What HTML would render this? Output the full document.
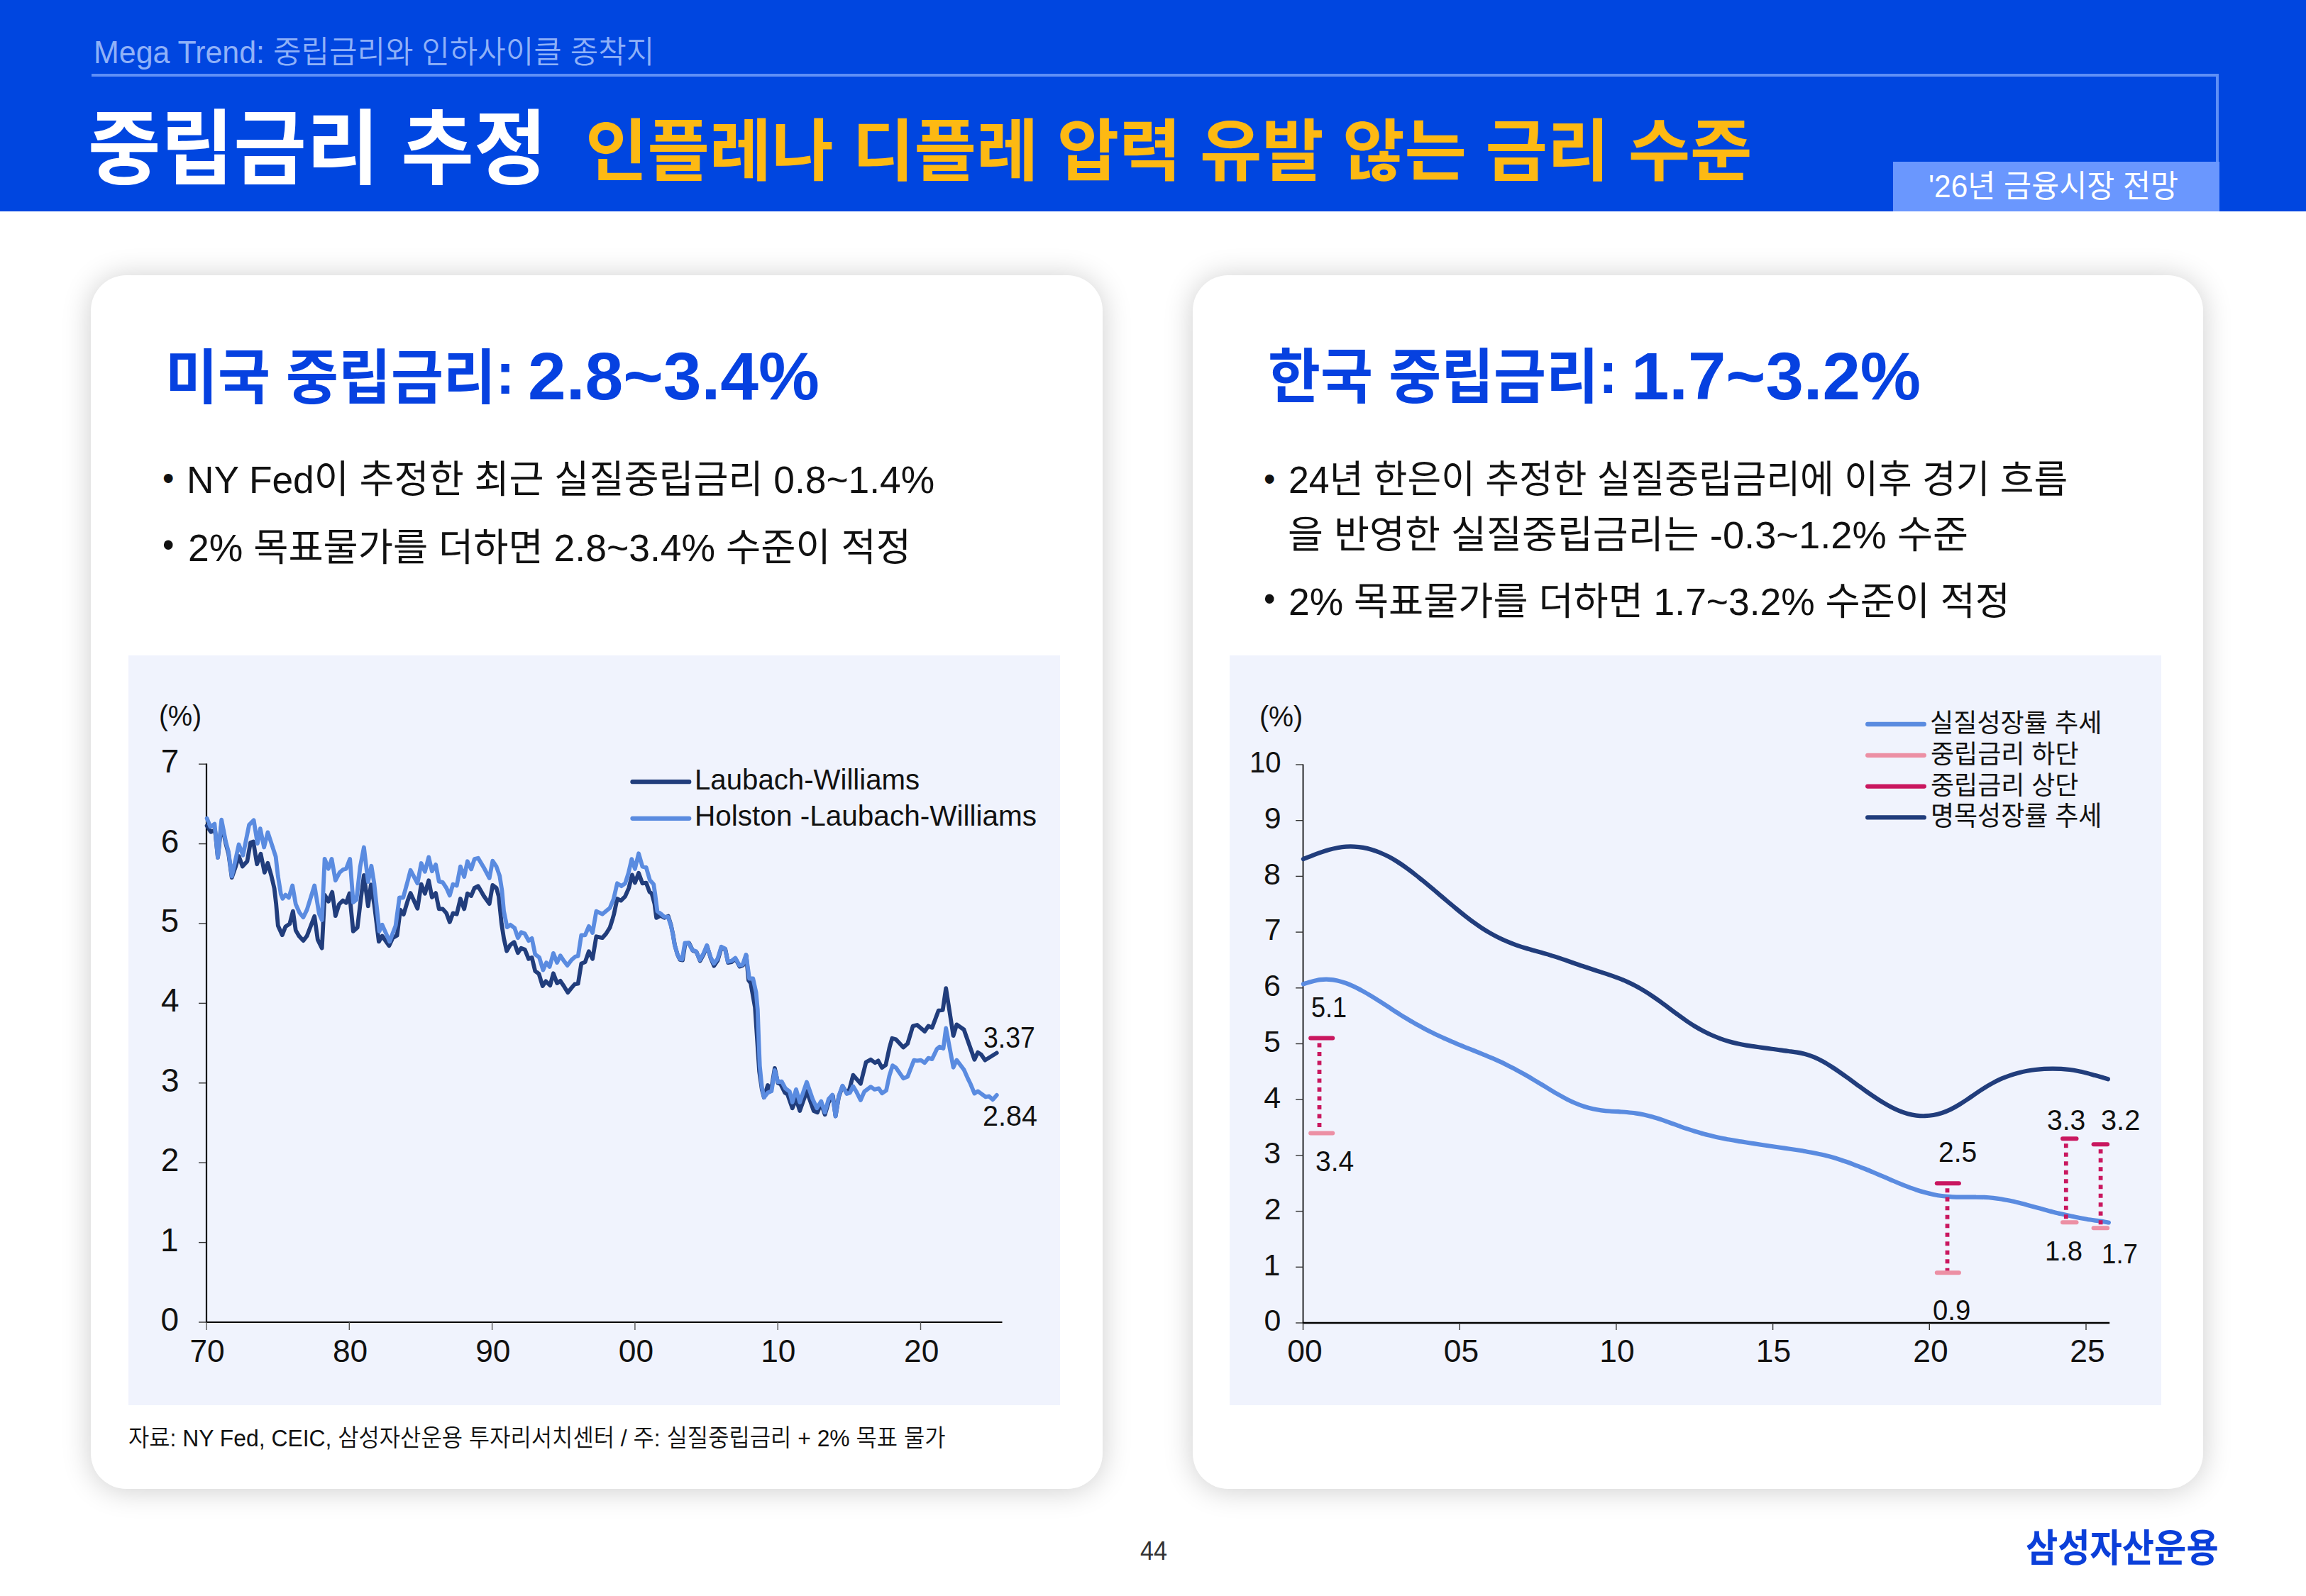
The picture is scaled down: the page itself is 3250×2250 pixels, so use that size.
<!DOCTYPE html>
<html lang="ko">
<head>
<meta charset="utf-8">
<title>중립금리 추정</title>
<style>
*{margin:0;padding:0;box-sizing:border-box}
html,body{width:3250px;height:2250px;background:#fff;overflow:hidden}
body{position:relative;font-family:"Liberation Sans","Noto Sans CJK KR",sans-serif}
.hdr{position:absolute;left:0;top:0;width:3250px;height:297.5px;background:#0046e0}
.fr{position:absolute;left:128.5px;top:103.5px;width:2998.2px;height:126px;border-top:4px solid #5f8ff6;border-right:4px solid #5f8ff6}
.bdg{position:absolute;left:2668px;top:228.2px;width:459.8px;height:69.5px;background:#6a97fe}
.card{position:absolute;top:387.5px;height:1711.5px;background:#fff;border-radius:50px;box-shadow:0 2px 42px rgba(0,0,0,.20)}
.c1{left:128px;width:1425.6px}
.c2{left:1680.5px;width:1424.6px}
.pnl{position:absolute;top:924px;height:1057px;background:#f0f3fd}
.p1{left:181px;width:1313.3px}
.p2{left:1732.8px;width:1313.3px}
.cv{position:absolute;left:0;top:0}
.t{position:absolute;white-space:nowrap;line-height:1;transform-origin:0 0}
.cl{position:relative;top:-.085em}
</style>
</head>
<body>
<div class="hdr"></div><div class="fr"></div><div class="bdg"></div>
<div class="card c1"></div><div class="card c2"></div>
<div class="pnl p1"></div><div class="pnl p2"></div>
<svg class="cv" width="3250" height="2250" viewBox="0 0 3250 2250">
<g stroke="#000" stroke-width="2.2" fill="none">
<path d="M291.0 1076.6V1864.0H1412.5"/>
<path d="M1836.5 1077.4V1865.0" stroke-width="1.7"/>
<path d="M1835.7 1865.0H2973.2" stroke-width="2.4"/>
</g>
<g stroke="#333" stroke-width="1.4" fill="none">
<path d="M280.0 1864.0H291.0"/>
<path d="M280.0 1751.6H291.0"/>
<path d="M280.0 1639.2H291.0"/>
<path d="M280.0 1526.8H291.0"/>
<path d="M280.0 1414.4H291.0"/>
<path d="M280.0 1302.0H291.0"/>
<path d="M280.0 1189.6H291.0"/>
<path d="M280.0 1077.2H291.0"/>
<path d="M291.0 1864.0V1875.0" stroke="#555"/>
<path d="M492.3 1864.0V1875.0" stroke="#555"/>
<path d="M693.6 1864.0V1875.0" stroke="#555"/>
<path d="M894.9 1864.0V1875.0" stroke="#555"/>
<path d="M1096.2 1864.0V1875.0" stroke="#555"/>
<path d="M1297.5 1864.0V1875.0" stroke="#555"/>
<path d="M1826.1 1865.0H1836.5"/>
<path d="M1826.1 1786.3H1836.5"/>
<path d="M1826.1 1707.6H1836.5"/>
<path d="M1826.1 1628.9H1836.5"/>
<path d="M1826.1 1550.2H1836.5"/>
<path d="M1826.1 1471.5H1836.5"/>
<path d="M1826.1 1392.8H1836.5"/>
<path d="M1826.1 1314.1H1836.5"/>
<path d="M1826.1 1235.4H1836.5"/>
<path d="M1826.1 1156.7H1836.5"/>
<path d="M1826.1 1078.0H1836.5"/>
<path d="M1836.5 1865.0V1875.0"/>
<path d="M2057.2 1865.0V1875.0"/>
<path d="M2277.9 1865.0V1875.0"/>
<path d="M2498.6 1865.0V1875.0"/>
<path d="M2719.3 1865.0V1875.0"/>
<path d="M2940.0 1865.0V1875.0"/>
</g>
<g fill="none" stroke-linejoin="round" stroke-linecap="round" stroke-width="5.8">
<polyline stroke="#213d7c" points="291.6,1164.2 297.1,1172.8 301.1,1170.8 303.0,1169.5 307.0,1208.9 312.2,1160.9 314.9,1173.4 318.2,1189.2 322.1,1203.7 326.7,1237.2 332.0,1222.1 336.6,1207.0 341.8,1221.4 348.4,1214.2 353.0,1187.9 357.0,1186.6 362.2,1218.2 367.5,1203.7 372.8,1230.0 377.4,1216.8 382.6,1235.3 386.6,1252.4 389.2,1274.7 391.8,1305.0 397.8,1318.2 402.4,1306.3 408.3,1302.4 412.9,1284.6 416.8,1311.6 421.4,1319.5 427.4,1326.1 432.6,1319.5 443.2,1291.8 447.8,1324.7 453.7,1336.6 457.6,1261.6 462.9,1270.8 468.2,1257.6 472.8,1291.2 478.0,1274.7 483.3,1269.5 487.9,1272.8 492.5,1259.6 497.8,1312.9 503.7,1307.6 508.3,1269.5 512.9,1233.9 518.8,1277.4 522.8,1247.1 527.4,1274.7 533.9,1327.4 538.6,1319.5 548.4,1333.3 553.7,1322.1 559.6,1318.8 564.2,1282.6 568.8,1289.2 574.7,1269.5 578.6,1259.1 588.4,1280.8 593.7,1246.6 598.9,1259.7 604.2,1241.3 608.8,1265.0 614.1,1259.1 618.7,1281.4 623.9,1281.4 629.2,1287.4 633.8,1299.9 638.4,1287.4 643.7,1288.7 648.9,1267.0 654.2,1281.4 658.8,1259.7 664.1,1263.0 668.7,1251.8 673.9,1249.2 681.8,1263.0 689.7,1274.2 694.3,1247.9 699.6,1251.8 702.9,1263.7 706.8,1301.8 710.1,1322.9 714.1,1340.7 719.3,1332.1 724.6,1328.2 729.9,1343.3 734.5,1336.7 739.7,1338.7 745.0,1351.8 749.6,1349.9 754.2,1368.9 759.5,1372.9 764.7,1390.0 769.3,1383.4 775.3,1389.3 779.9,1372.2 785.1,1386.1 789.7,1382.8 795.0,1390.7 800.3,1399.2 805.5,1392.6 810.1,1387.4 814.7,1386.7 819.3,1358.4 824.6,1356.4 829.9,1341.3 835.1,1351.8 840.4,1320.3 848.9,1322.2 854.2,1316.3 859.5,1307.8 863.4,1295.3 865.3,1288.7 869.9,1267.0 875.1,1269.6 881.1,1263.7 886.3,1251.8 890.9,1233.4 894.9,1244.6 900.1,1230.8 905.4,1245.3 910.7,1244.6 915.3,1257.1 918.6,1259.7 922.5,1274.2 925.1,1293.9 931.1,1290.7 936.3,1293.9 941.8,1291.6 945.8,1304.5 948.4,1317.0 951.1,1332.8 955.0,1346.3 958.3,1352.9 962.0,1353.6 965.7,1330.1 971.2,1329.5 976.3,1340.0 981.6,1342.1 986.6,1354.5 991.8,1345.0 996.4,1333.4 1001.7,1350.8 1006.3,1361.7 1011.6,1353.8 1016.8,1335.4 1022.2,1338.0 1026.1,1357.1 1031.3,1356.1 1036.6,1351.6 1042.5,1362.6 1047.1,1360.8 1051.7,1346.8 1055.0,1382.1 1058.0,1386.1 1059.5,1394.6 1064.1,1420.2 1067.1,1465.3 1070.1,1510.4 1073.8,1535.9 1076.8,1547.2 1082.1,1529.9 1086.6,1538.2 1091.9,1505.9 1096.4,1526.9 1100.2,1528.4 1106.2,1540.5 1109.9,1542.7 1116.7,1562.3 1122.0,1549.5 1127.2,1566.0 1137.0,1538.2 1146.8,1566.0 1152.0,1568.3 1157.3,1555.5 1162.6,1571.3 1167.8,1554.0 1173.8,1545.0 1177.6,1573.5 1182.1,1546.5 1187.4,1531.4 1193.4,1540.5 1197.1,1535.9 1202.4,1515.6 1212.9,1527.7 1220.5,1497.6 1227.2,1493.8 1233.2,1498.3 1237.7,1495.3 1243.0,1505.1 1248.3,1501.4 1253.5,1477.3 1257.3,1463.8 1262.6,1465.3 1273.1,1476.5 1279.1,1471.3 1286.6,1446.5 1292.6,1445.0 1303.2,1454.0 1308.4,1446.5 1313.7,1448.7 1322.7,1424.7 1328.7,1423.9 1333.2,1393.1 1343.6,1460.1 1348.3,1444.4 1358.5,1451.5 1373.4,1493.8 1378.1,1483.6 1382.8,1486.7 1388.3,1494.6 1404.8,1484.4"/>
<polyline stroke="#5a8be0" points="291.6,1153.7 296.4,1165.5 299.7,1163.6 302.4,1161.6 307.0,1208.9 312.2,1155.7 314.9,1169.5 318.2,1186.6 322.1,1201.1 326.7,1235.3 332.0,1211.6 336.6,1190.5 342.5,1205.7 347.1,1182.6 351.1,1162.9 357.6,1156.3 362.9,1189.2 366.8,1168.2 372.1,1194.5 377.4,1173.4 383.9,1193.2 388.6,1207.6 391.8,1235.3 395.8,1260.3 398.4,1266.8 402.4,1261.6 407.0,1265.5 412.2,1248.4 416.8,1274.7 422.1,1286.6 427.4,1293.2 432.6,1282.6 443.2,1248.4 449.7,1287.9 453.7,1297.1 457.6,1210.9 462.9,1224.7 467.5,1210.9 472.8,1241.2 478.7,1230.0 483.3,1226.1 487.9,1224.7 493.2,1210.9 497.8,1272.1 502.4,1268.2 507.6,1222.1 512.9,1194.5 518.8,1243.2 523.4,1220.8 527.4,1245.8 534.6,1312.9 538.6,1303.7 549.1,1327.4 557.6,1305.0 562.9,1265.5 568.2,1265.5 574.7,1241.8 578.6,1226.8 588.4,1245.3 593.7,1217.0 598.9,1228.8 604.2,1208.4 608.8,1228.2 614.1,1218.9 618.7,1242.6 623.9,1243.9 629.2,1251.8 633.8,1262.4 638.4,1246.6 643.7,1248.6 648.9,1221.6 654.2,1236.1 658.8,1214.3 664.1,1225.5 668.7,1211.1 673.9,1209.7 681.8,1222.9 689.7,1238.0 694.3,1213.7 699.6,1221.6 704.2,1234.7 707.5,1255.8 710.1,1284.7 714.7,1307.1 719.3,1303.8 725.3,1308.4 729.9,1322.2 734.5,1314.3 739.7,1316.3 745.0,1326.2 749.6,1322.9 754.2,1345.3 760.1,1349.9 765.4,1367.6 770.0,1357.1 774.6,1363.0 779.9,1343.9 785.1,1357.1 789.7,1347.2 795.0,1355.1 799.6,1361.1 805.5,1353.2 810.8,1348.6 814.7,1347.9 819.3,1318.3 824.6,1318.3 829.9,1305.8 835.1,1315.0 840.4,1284.7 848.9,1288.7 859.5,1280.1 864.7,1267.6 869.9,1245.3 875.8,1249.2 881.1,1245.3 885.7,1230.8 890.3,1211.1 894.9,1224.9 900.1,1203.2 905.4,1221.6 910.7,1222.9 915.9,1240.7 921.2,1246.6 923.2,1259.7 926.4,1284.7 931.1,1288.0 936.3,1292.6 941.6,1292.6 945.5,1304.5 948.2,1316.3 950.8,1332.1 954.7,1345.3 958.0,1351.8 961.3,1352.5 965.3,1329.5 970.5,1329.5 975.8,1339.3 981.1,1341.3 986.3,1353.2 991.6,1343.9 996.2,1332.8 1001.4,1349.2 1006.1,1358.4 1011.3,1351.8 1016.6,1334.7 1021.8,1337.4 1025.8,1355.8 1031.1,1354.5 1036.3,1350.5 1042.2,1361.1 1046.8,1359.7 1051.4,1345.9 1056.1,1379.5 1061.3,1379.5 1065.6,1399.1 1067.8,1423.2 1069.3,1465.3 1070.8,1502.9 1073.8,1532.9 1076.8,1547.2 1082.1,1540.5 1087.4,1538.2 1091.9,1508.9 1096.4,1525.4 1101.7,1524.7 1106.9,1534.4 1112.9,1538.9 1116.7,1554.0 1122.0,1535.9 1127.2,1554.0 1137.0,1525.4 1145.3,1549.5 1151.3,1562.3 1157.3,1552.5 1162.6,1568.3 1167.8,1549.5 1173.1,1543.5 1177.6,1573.5 1182.1,1545.0 1187.4,1530.7 1193.4,1542.0 1197.9,1540.5 1202.4,1531.4 1206.9,1538.9 1212.9,1551.0 1218.2,1538.9 1227.2,1532.2 1232.5,1535.9 1238.5,1534.4 1243.0,1541.2 1249.0,1537.4 1253.5,1516.4 1258.0,1502.1 1262.6,1505.1 1273.1,1520.2 1279.1,1517.9 1288.1,1494.6 1292.6,1495.3 1297.9,1494.6 1303.2,1498.3 1308.4,1491.6 1313.7,1493.1 1320.5,1478.8 1324.2,1475.8 1329.5,1478.0 1333.2,1449.5 1343.6,1504.8 1348.3,1494.6 1358.5,1507.9 1364.0,1520.4 1367.9,1528.3 1373.4,1541.6 1378.1,1538.4 1389.1,1546.3 1393.8,1545.5 1399.3,1550.2 1404.8,1543.9"/>
<path stroke="#213d7c" stroke-width="6.3" d="M891.5 1102.2H971.2"/>
<path stroke="#5a8be0" stroke-width="6.3" d="M891.5 1153.8H971.2"/>
</g>
<g fill="none" stroke-linejoin="round" stroke-linecap="round" stroke-width="6.2">
<path stroke="#5a8be0" d="M1836.9 1387.3 C1838.9 1386.7 1844.9 1384.7 1848.9 1383.7 C1852.9 1382.7 1856.9 1381.7 1860.9 1381.2 C1864.9 1380.7 1868.9 1380.6 1872.9 1380.8 C1876.9 1381.0 1880.9 1381.5 1884.9 1382.4 C1888.9 1383.3 1892.9 1384.5 1896.9 1386.0 C1900.9 1387.5 1904.9 1389.2 1908.9 1391.1 C1912.9 1393.0 1916.9 1395.2 1920.9 1397.4 C1924.9 1399.6 1928.9 1402.0 1932.9 1404.4 C1936.9 1406.8 1940.9 1409.4 1944.9 1411.9 C1948.9 1414.5 1952.9 1417.1 1956.9 1419.7 C1960.9 1422.3 1964.9 1425.0 1968.9 1427.5 C1972.9 1430.0 1976.9 1432.6 1980.9 1435.0 C1984.9 1437.4 1988.9 1439.8 1992.9 1442.1 C1996.9 1444.4 2000.9 1446.5 2004.9 1448.7 C2008.9 1450.9 2012.9 1453.0 2016.9 1455.0 C2020.9 1457.0 2024.9 1458.9 2028.9 1460.8 C2032.9 1462.7 2036.9 1464.4 2040.9 1466.2 C2044.9 1468.0 2048.9 1469.7 2052.9 1471.4 C2056.9 1473.1 2060.9 1474.7 2064.9 1476.3 C2068.9 1477.9 2072.9 1479.4 2076.9 1481.0 C2080.9 1482.6 2084.9 1484.2 2088.9 1485.8 C2092.9 1487.4 2096.9 1489.1 2100.9 1490.8 C2104.9 1492.5 2108.9 1494.2 2112.9 1496.1 C2116.9 1497.9 2120.9 1499.9 2124.9 1501.9 C2128.9 1503.9 2132.9 1506.1 2136.9 1508.2 C2140.9 1510.3 2144.9 1512.5 2148.9 1514.8 C2152.9 1517.1 2156.9 1519.4 2160.9 1521.8 C2164.9 1524.2 2168.9 1526.6 2172.9 1529.0 C2176.9 1531.4 2180.9 1533.9 2184.9 1536.3 C2188.9 1538.7 2192.9 1541.1 2196.9 1543.4 C2200.9 1545.7 2204.9 1547.9 2208.9 1549.9 C2212.9 1551.9 2216.9 1553.8 2220.9 1555.5 C2224.9 1557.2 2228.9 1558.7 2232.9 1560.0 C2236.9 1561.3 2240.9 1562.4 2244.9 1563.3 C2248.9 1564.2 2252.9 1564.8 2256.9 1565.3 C2260.9 1565.8 2264.9 1566.2 2268.9 1566.5 C2272.9 1566.8 2276.9 1567.0 2280.9 1567.2 C2284.9 1567.5 2288.9 1567.6 2292.9 1568.0 C2296.9 1568.4 2300.9 1568.8 2304.9 1569.4 C2308.9 1570.0 2312.9 1570.7 2316.9 1571.6 C2320.9 1572.5 2324.9 1573.5 2328.9 1574.6 C2332.9 1575.7 2336.9 1577.0 2340.9 1578.3 C2344.9 1579.6 2348.9 1581.1 2352.9 1582.5 C2356.9 1583.9 2360.9 1585.5 2364.9 1586.9 C2368.9 1588.3 2372.9 1589.8 2376.9 1591.1 C2380.9 1592.4 2384.9 1593.8 2388.9 1595.0 C2392.9 1596.2 2396.9 1597.4 2400.9 1598.5 C2404.9 1599.6 2408.9 1600.5 2412.9 1601.5 C2416.9 1602.5 2420.9 1603.4 2424.9 1604.2 C2428.9 1605.0 2432.9 1605.8 2436.9 1606.5 C2440.9 1607.2 2444.9 1607.9 2448.9 1608.6 C2452.9 1609.3 2456.9 1609.9 2460.9 1610.5 C2464.9 1611.1 2468.9 1611.8 2472.9 1612.4 C2476.9 1613.0 2480.9 1613.6 2484.9 1614.2 C2488.9 1614.8 2492.9 1615.4 2496.9 1616.0 C2500.9 1616.6 2504.9 1617.2 2508.9 1617.8 C2512.9 1618.4 2516.9 1618.9 2520.9 1619.5 C2524.9 1620.1 2528.9 1620.7 2532.9 1621.3 C2536.9 1621.9 2540.9 1622.5 2544.9 1623.2 C2548.9 1623.9 2552.9 1624.7 2556.9 1625.5 C2560.9 1626.3 2564.9 1627.1 2568.9 1628.0 C2572.9 1628.9 2576.9 1630.0 2580.9 1631.1 C2584.9 1632.2 2588.9 1633.4 2592.9 1634.7 C2596.9 1636.0 2600.9 1637.4 2604.9 1638.8 C2608.9 1640.2 2612.9 1641.8 2616.9 1643.3 C2620.9 1644.8 2624.9 1646.4 2628.9 1648.0 C2632.9 1649.6 2636.9 1651.3 2640.9 1653.0 C2644.9 1654.7 2648.9 1656.4 2652.9 1658.1 C2656.9 1659.8 2660.9 1661.6 2664.9 1663.3 C2668.9 1665.0 2672.9 1666.8 2676.9 1668.4 C2680.9 1670.1 2684.9 1671.7 2688.9 1673.2 C2692.9 1674.7 2696.9 1676.2 2700.9 1677.5 C2704.9 1678.8 2708.9 1680.0 2712.9 1681.1 C2716.9 1682.2 2720.9 1683.2 2724.9 1684.0 C2728.9 1684.8 2732.9 1685.5 2736.9 1686.0 C2740.9 1686.5 2744.9 1686.8 2748.9 1687.1 C2752.9 1687.4 2756.9 1687.5 2760.9 1687.6 C2764.9 1687.7 2768.9 1687.6 2772.9 1687.6 C2776.9 1687.6 2780.9 1687.5 2784.9 1687.6 C2788.9 1687.6 2792.9 1687.7 2796.9 1687.9 C2800.9 1688.1 2804.9 1688.4 2808.9 1688.8 C2812.9 1689.2 2816.9 1689.8 2820.9 1690.5 C2824.9 1691.2 2828.9 1692.0 2832.9 1692.8 C2836.9 1693.6 2840.9 1694.6 2844.9 1695.6 C2848.9 1696.6 2852.9 1697.6 2856.9 1698.7 C2860.9 1699.8 2864.9 1700.9 2868.9 1702.0 C2872.9 1703.1 2876.9 1704.1 2880.9 1705.2 C2884.9 1706.3 2888.9 1707.4 2892.9 1708.4 C2896.9 1709.4 2900.9 1710.4 2904.9 1711.3 C2908.9 1712.2 2912.9 1713.1 2916.9 1714.0 C2920.9 1714.9 2924.9 1715.7 2928.9 1716.5 C2932.9 1717.3 2936.9 1718.0 2940.9 1718.7 C2944.9 1719.4 2948.9 1720.0 2952.9 1720.6 C2956.9 1721.2 2961.7 1721.7 2964.9 1722.2 C2968.1 1722.7 2970.7 1723.3 2971.9 1723.5"/>
<path stroke="#213d7c" d="M1836.9 1211.1 C1838.9 1210.3 1844.9 1207.8 1848.9 1206.3 C1852.9 1204.8 1856.9 1203.3 1860.9 1201.9 C1864.9 1200.5 1868.9 1199.2 1872.9 1198.1 C1876.9 1197.0 1880.9 1196.0 1884.9 1195.3 C1888.9 1194.6 1892.9 1194.0 1896.9 1193.7 C1900.9 1193.4 1904.9 1193.4 1908.9 1193.6 C1912.9 1193.8 1916.9 1194.2 1920.9 1194.9 C1924.9 1195.6 1928.9 1196.5 1932.9 1197.7 C1936.9 1198.9 1940.9 1200.3 1944.9 1202.0 C1948.9 1203.7 1952.9 1205.5 1956.9 1207.6 C1960.9 1209.7 1964.9 1212.0 1968.9 1214.5 C1972.9 1217.0 1976.9 1219.8 1980.9 1222.6 C1984.9 1225.4 1988.9 1228.5 1992.9 1231.6 C1996.9 1234.7 2000.9 1238.0 2004.9 1241.2 C2008.9 1244.5 2012.9 1247.8 2016.9 1251.1 C2020.9 1254.4 2024.9 1257.9 2028.9 1261.3 C2032.9 1264.7 2036.9 1268.1 2040.9 1271.5 C2044.9 1274.9 2048.9 1278.2 2052.9 1281.5 C2056.9 1284.8 2060.9 1288.1 2064.9 1291.2 C2068.9 1294.3 2072.9 1297.4 2076.9 1300.3 C2080.9 1303.2 2084.9 1306.0 2088.9 1308.6 C2092.9 1311.2 2096.9 1313.6 2100.9 1315.9 C2104.9 1318.2 2108.9 1320.3 2112.9 1322.3 C2116.9 1324.3 2120.9 1326.0 2124.9 1327.7 C2128.9 1329.4 2132.9 1331.0 2136.9 1332.4 C2140.9 1333.8 2144.9 1335.1 2148.9 1336.3 C2152.9 1337.5 2156.9 1338.7 2160.9 1339.8 C2164.9 1340.9 2168.9 1342.0 2172.9 1343.1 C2176.9 1344.2 2180.9 1345.4 2184.9 1346.6 C2188.9 1347.8 2192.9 1349.1 2196.9 1350.4 C2200.9 1351.7 2204.9 1353.1 2208.9 1354.5 C2212.9 1355.9 2216.9 1357.3 2220.9 1358.7 C2224.9 1360.1 2228.9 1361.5 2232.9 1362.8 C2236.9 1364.1 2240.9 1365.5 2244.9 1366.8 C2248.9 1368.1 2252.9 1369.3 2256.9 1370.6 C2260.9 1371.9 2264.9 1373.2 2268.9 1374.6 C2272.9 1376.0 2276.9 1377.4 2280.9 1378.9 C2284.9 1380.5 2288.9 1382.1 2292.9 1383.9 C2296.9 1385.7 2300.9 1387.7 2304.9 1389.8 C2308.9 1391.9 2312.9 1394.3 2316.9 1396.7 C2320.9 1399.1 2324.9 1401.7 2328.9 1404.4 C2332.9 1407.1 2336.9 1409.9 2340.9 1412.8 C2344.9 1415.7 2348.9 1418.7 2352.9 1421.7 C2356.9 1424.7 2360.9 1427.7 2364.9 1430.6 C2368.9 1433.5 2372.9 1436.5 2376.9 1439.2 C2380.9 1441.9 2384.9 1444.6 2388.9 1447.0 C2392.9 1449.4 2396.9 1451.7 2400.9 1453.8 C2404.9 1455.9 2408.9 1457.8 2412.9 1459.5 C2416.9 1461.2 2420.9 1462.8 2424.9 1464.3 C2428.9 1465.8 2432.9 1467.0 2436.9 1468.2 C2440.9 1469.4 2444.9 1470.3 2448.9 1471.2 C2452.9 1472.1 2456.9 1472.9 2460.9 1473.6 C2464.9 1474.3 2468.9 1474.8 2472.9 1475.4 C2476.9 1476.0 2480.9 1476.5 2484.9 1477.1 C2488.9 1477.6 2492.9 1478.2 2496.9 1478.7 C2500.9 1479.2 2504.9 1479.9 2508.9 1480.4 C2512.9 1481.0 2516.9 1481.5 2520.9 1482.0 C2524.9 1482.5 2528.9 1482.9 2532.9 1483.6 C2536.9 1484.3 2540.9 1485.1 2544.9 1486.2 C2548.9 1487.3 2552.9 1488.7 2556.9 1490.4 C2560.9 1492.1 2564.9 1494.1 2568.9 1496.3 C2572.9 1498.5 2576.9 1501.0 2580.9 1503.5 C2584.9 1506.0 2588.9 1508.8 2592.9 1511.6 C2596.9 1514.4 2600.9 1517.2 2604.9 1520.1 C2608.9 1523.0 2612.9 1526.0 2616.9 1528.9 C2620.9 1531.8 2624.9 1534.8 2628.9 1537.6 C2632.9 1540.4 2636.9 1543.2 2640.9 1545.9 C2644.9 1548.6 2648.9 1551.3 2652.9 1553.7 C2656.9 1556.1 2660.9 1558.4 2664.9 1560.5 C2668.9 1562.6 2672.9 1564.5 2676.9 1566.1 C2680.9 1567.7 2684.9 1569.1 2688.9 1570.2 C2692.9 1571.3 2696.9 1572.1 2700.9 1572.6 C2704.9 1573.1 2708.9 1573.3 2712.9 1573.2 C2716.9 1573.1 2720.9 1572.7 2724.9 1572.0 C2728.9 1571.3 2732.9 1570.3 2736.9 1569.0 C2740.9 1567.7 2744.9 1566.0 2748.9 1564.1 C2752.9 1562.2 2756.9 1559.9 2760.9 1557.5 C2764.9 1555.1 2768.9 1552.5 2772.9 1549.8 C2776.9 1547.1 2780.9 1544.2 2784.9 1541.5 C2788.9 1538.8 2792.9 1536.1 2796.9 1533.6 C2800.9 1531.1 2804.9 1528.8 2808.9 1526.6 C2812.9 1524.4 2816.9 1522.5 2820.9 1520.7 C2824.9 1519.0 2828.9 1517.5 2832.9 1516.1 C2836.9 1514.7 2840.9 1513.5 2844.9 1512.4 C2848.9 1511.4 2852.9 1510.5 2856.9 1509.8 C2860.9 1509.1 2864.9 1508.5 2868.9 1508.0 C2872.9 1507.5 2876.9 1507.1 2880.9 1506.9 C2884.9 1506.7 2888.9 1506.6 2892.9 1506.6 C2896.9 1506.6 2900.9 1506.7 2904.9 1506.9 C2908.9 1507.1 2912.9 1507.5 2916.9 1508.0 C2920.9 1508.5 2924.9 1509.2 2928.9 1510.0 C2932.9 1510.8 2936.9 1511.8 2940.9 1512.8 C2944.9 1513.8 2948.9 1515.0 2952.9 1516.1 C2956.9 1517.2 2961.9 1518.6 2964.9 1519.5 C2967.9 1520.4 2969.9 1521.0 2970.9 1521.3"/>
<path stroke="#5a8be0" stroke-width="6.3" d="M2632.2 1021.0H2711.8"/>
<path stroke="#ec8fa4" stroke-width="6.3" d="M2632.2 1064.8H2711.8"/>
<path stroke="#c9175f" stroke-width="6.3" d="M2632.2 1108.6H2711.8"/>
<path stroke="#213d7c" stroke-width="6.3" d="M2632.2 1152.4H2711.8"/>
</g>
<path d="M1859.5 1470.6V1595.4" stroke="#c9175f" stroke-width="5.8" stroke-dasharray="6 6.5" fill="none"/>
<path d="M1847.1 1597.4H1878.2" stroke="#ec8fa4" stroke-width="6" stroke-linecap="round" fill="none"/>
<path d="M1847.1 1463.6H1878.2" stroke="#c9175f" stroke-width="6" stroke-linecap="round" fill="none"/>
<path d="M2744.5 1675.2V1792.2" stroke="#c9175f" stroke-width="5.8" stroke-dasharray="6 6.5" fill="none"/>
<path d="M2729.8 1794.2H2760.9" stroke="#ec8fa4" stroke-width="6" stroke-linecap="round" fill="none"/>
<path d="M2729.8 1668.2H2760.9" stroke="#c9175f" stroke-width="6" stroke-linecap="round" fill="none"/>
<path d="M2911.8 1612.3V1721.3" stroke="#c9175f" stroke-width="5.8" stroke-dasharray="6 6.5" fill="none"/>
<path d="M2907.0 1723.3H2926.5" stroke="#ec8fa4" stroke-width="6" stroke-linecap="round" fill="none"/>
<path d="M2907.0 1605.3H2926.5" stroke="#c9175f" stroke-width="6" stroke-linecap="round" fill="none"/>
<path d="M2960.6 1620.2V1729.2" stroke="#c9175f" stroke-width="5.8" stroke-dasharray="6 6.5" fill="none"/>
<path d="M2950.6 1731.2H2970.1" stroke="#ec8fa4" stroke-width="6" stroke-linecap="round" fill="none"/>
<path d="M2950.6 1613.2H2970.1" stroke="#c9175f" stroke-width="6" stroke-linecap="round" fill="none"/>
</svg>
<div class="t" id="sub" style='left:132.20px;top:51.51px;font-size:44.00px;font-weight:350;color:#8fb1f8;font-family:"Liberation Sans","Noto Sans CJK KR",sans-serif;transform:scaleX(0.9756);'>Mega Trend: 중립금리와 인하사이클 종착지</div>
<div class="t" id="title" style='left:124.32px;top:152.99px;font-size:114.86px;font-weight:700;color:#fff;font-family:"Liberation Sans","Noto Sans CJK KR",sans-serif;transform:scaleX(0.9708);'>중립금리 추정</div>
<div class="t" id="ytitle" style='left:825.06px;top:165.81px;font-size:95.82px;font-weight:700;color:#fdb913;font-family:"Liberation Sans","Noto Sans CJK KR",sans-serif;transform:scaleX(0.9917);'>인플레나 디플레 압력 유발 않는 금리 수준</div>
<div class="t" id="badge" style='left:2718.48px;top:240.81px;font-size:44.00px;font-weight:400;color:#fff;font-family:"Liberation Sans","Noto Sans CJK KR",sans-serif;transform:scaleX(0.9642);'>'26년 금융시장 전망</div>
<div class="t" id="h1" style='left:233.09px;top:491.86px;font-size:83.97px;font-weight:700;color:#0641e0;font-family:"Liberation Sans","Noto Sans CJK KR",sans-serif;transform:scaleX(0.9566);'>미국 중립금리<span class="cl">:</span></div>
<div class="t" id="h1n" style='left:743.71px;top:484.21px;font-size:94.19px;font-weight:700;color:#0641e0;font-family:"Liberation Sans",sans-serif;transform:scaleX(1.0255);'>2.8~3.4%</div>
<div class="t" id="b1d" style='left:229.23px;top:650.05px;font-size:48.02px;font-weight:400;color:#111111;font-family:"Liberation Sans","Noto Sans CJK KR",sans-serif;transform:scaleX(0.9749);'>•</div>
<div class="t" id="b1" style='left:262.68px;top:648.81px;font-size:54.00px;font-weight:400;color:#111111;font-family:"Liberation Sans","Noto Sans CJK KR",sans-serif;transform:scaleX(0.9870);'>NY Fed이 추정한 최근 실질중립금리 0.8~1.4%</div>
<div class="t" id="b2d" style='left:229.23px;top:743.32px;font-size:49.36px;font-weight:400;color:#111111;font-family:"Liberation Sans","Noto Sans CJK KR",sans-serif;transform:scaleX(0.9484);'>•</div>
<div class="t" id="b2" style='left:264.62px;top:744.51px;font-size:54.00px;font-weight:400;color:#111111;font-family:"Liberation Sans","Noto Sans CJK KR",sans-serif;transform:scaleX(0.9906);'>2% 목표물가를 더하면 2.8~3.4% 수준이 적정</div>
<div class="t" id="src" style='left:180.97px;top:2009.81px;font-size:34.00px;font-weight:350;color:#111111;font-family:"Liberation Sans","Noto Sans CJK KR",sans-serif;transform:scaleX(0.9368);'>자료: NY Fed, CEIC, 삼성자산운용 투자리서치센터 / 주: 실질중립금리 + 2% 목표 물가</div>
<div class="t" id="h2" style='left:1787.47px;top:490.86px;font-size:83.97px;font-weight:700;color:#0641e0;font-family:"Liberation Sans","Noto Sans CJK KR",sans-serif;transform:scaleX(0.9571);'>한국 중립금리<span class="cl">:</span></div>
<div class="t" id="h2n" style='left:2299.32px;top:482.68px;font-size:94.50px;font-weight:700;color:#0641e0;font-family:"Liberation Sans",sans-serif;transform:scaleX(1.0152);'>1.7~3.2%</div>
<div class="t" id="r1d" style='left:1781.44px;top:650.61px;font-size:48.02px;font-weight:400;color:#111111;font-family:"Liberation Sans","Noto Sans CJK KR",sans-serif;transform:scaleX(0.9749);'>•</div>
<div class="t" id="r1a" style='left:1815.98px;top:649.31px;font-size:54.00px;font-weight:400;color:#111111;font-family:"Liberation Sans","Noto Sans CJK KR",sans-serif;transform:scaleX(0.9603);'>24년 한은이 추정한 실질중립금리에 이후 경기 흐름</div>
<div class="t" id="r1b" style='left:1814.79px;top:726.91px;font-size:54.00px;font-weight:400;color:#111111;font-family:"Liberation Sans","Noto Sans CJK KR",sans-serif;transform:scaleX(1.0056);'>을 반영한 실질중립금리는 -0.3~1.2% 수준</div>
<div class="t" id="r2d" style='left:1781.44px;top:819.32px;font-size:49.36px;font-weight:400;color:#111111;font-family:"Liberation Sans","Noto Sans CJK KR",sans-serif;transform:scaleX(0.9484);'>•</div>
<div class="t" id="r2" style='left:1815.94px;top:820.51px;font-size:54.00px;font-weight:400;color:#111111;font-family:"Liberation Sans","Noto Sans CJK KR",sans-serif;transform:scaleX(0.9887);'>2% 목표물가를 더하면 1.7~3.2% 수준이 적정</div>
<div class="t" id="pg" style='left:1607.00px;top:2168.31px;font-size:37.51px;font-weight:400;color:#333;font-family:"Liberation Sans",sans-serif;transform:scaleX(0.9118);'>44</div>
<div class="t" id="logo" style='left:2855.15px;top:2155.88px;font-size:54.00px;font-weight:700;color:#0b3fd9;font-family:"Liberation Sans","Noto Sans CJK KR",sans-serif;transform:scaleX(0.9114);'>삼성자산운용</div>
<div class="t" id="lpc" style='left:223.77px;top:988.80px;font-size:40.00px;font-weight:400;color:#111111;font-family:"Liberation Sans",sans-serif;transform:scaleX(0.9660);'>(%)</div>
<div class="t" id="ly0" style='left:226.62px;top:1838.00px;font-size:45.94px;font-weight:400;color:#111111;font-family:"Liberation Sans",sans-serif;'>0</div>
<div class="t" id="ly1" style='left:226.00px;top:1725.58px;font-size:45.94px;font-weight:400;color:#111111;font-family:"Liberation Sans",sans-serif;'>1</div>
<div class="t" id="ly2" style='left:226.65px;top:1613.25px;font-size:45.94px;font-weight:400;color:#111111;font-family:"Liberation Sans",sans-serif;'>2</div>
<div class="t" id="ly3" style='left:227.10px;top:1500.81px;font-size:45.94px;font-weight:400;color:#111111;font-family:"Liberation Sans",sans-serif;'>3</div>
<div class="t" id="ly4" style='left:227.12px;top:1388.31px;font-size:45.94px;font-weight:400;color:#111111;font-family:"Liberation Sans",sans-serif;'>4</div>
<div class="t" id="ly5" style='left:226.58px;top:1276.00px;font-size:45.94px;font-weight:400;color:#111111;font-family:"Liberation Sans",sans-serif;'>5</div>
<div class="t" id="ly6" style='left:226.64px;top:1163.58px;font-size:45.94px;font-weight:400;color:#111111;font-family:"Liberation Sans",sans-serif;'>6</div>
<div class="t" id="ly7" style='left:226.65px;top:1051.25px;font-size:45.94px;font-weight:400;color:#111111;font-family:"Liberation Sans",sans-serif;'>7</div>
<div class="t" id="lx0" style='left:267.48px;top:1882.63px;font-size:44.29px;font-weight:400;color:#111111;font-family:"Liberation Sans",sans-serif;'>70</div>
<div class="t" id="lx1" style='left:468.88px;top:1882.63px;font-size:44.29px;font-weight:400;color:#111111;font-family:"Liberation Sans",sans-serif;'>80</div>
<div class="t" id="lx2" style='left:670.14px;top:1882.63px;font-size:44.29px;font-weight:400;color:#111111;font-family:"Liberation Sans",sans-serif;'>90</div>
<div class="t" id="lx3" style='left:871.85px;top:1882.63px;font-size:44.29px;font-weight:400;color:#111111;font-family:"Liberation Sans",sans-serif;'>00</div>
<div class="t" id="lx4" style='left:1072.20px;top:1882.63px;font-size:44.29px;font-weight:400;color:#111111;font-family:"Liberation Sans",sans-serif;'>10</div>
<div class="t" id="lx5" style='left:1274.07px;top:1882.63px;font-size:44.29px;font-weight:400;color:#111111;font-family:"Liberation Sans",sans-serif;'>20</div>
<div class="t" id="lg1" style='left:979.35px;top:1079.01px;font-size:40.00px;font-weight:400;color:#111111;font-family:"Liberation Sans",sans-serif;transform:scaleX(1.0044);'>Laubach-Williams</div>
<div class="t" id="lg2" style='left:979.26px;top:1130.30px;font-size:40.00px;font-weight:400;color:#111111;font-family:"Liberation Sans",sans-serif;transform:scaleX(1.0133);'>Holston -Laubach-Williams</div>
<div class="t" id="v337" style='left:1386.22px;top:1441.50px;font-size:42.01px;font-weight:400;color:#111111;font-family:"Liberation Sans",sans-serif;transform:scaleX(0.8907);'>3.37</div>
<div class="t" id="v284" style='left:1385.47px;top:1552.61px;font-size:40.52px;font-weight:400;color:#111111;font-family:"Liberation Sans",sans-serif;transform:scaleX(0.9755);'>2.84</div>
<div class="t" id="rpc" style='left:1774.64px;top:989.60px;font-size:40.00px;font-weight:400;color:#111111;font-family:"Liberation Sans",sans-serif;transform:scaleX(0.9832);'>(%)</div>
<div class="t" id="ry0" style='left:1781.58px;top:1840.29px;font-size:42.93px;font-weight:400;color:#111111;font-family:"Liberation Sans",sans-serif;'>0</div>
<div class="t" id="ry1" style='left:1780.59px;top:1761.67px;font-size:42.93px;font-weight:400;color:#111111;font-family:"Liberation Sans",sans-serif;'>1</div>
<div class="t" id="ry2" style='left:1781.65px;top:1682.91px;font-size:42.93px;font-weight:400;color:#111111;font-family:"Liberation Sans",sans-serif;'>2</div>
<div class="t" id="ry3" style='left:1781.25px;top:1604.26px;font-size:42.93px;font-weight:400;color:#111111;font-family:"Liberation Sans",sans-serif;'>3</div>
<div class="t" id="ry4" style='left:1781.16px;top:1525.63px;font-size:42.93px;font-weight:400;color:#111111;font-family:"Liberation Sans",sans-serif;'>4</div>
<div class="t" id="ry5" style='left:1781.10px;top:1446.83px;font-size:42.93px;font-weight:400;color:#111111;font-family:"Liberation Sans",sans-serif;'>5</div>
<div class="t" id="ry6" style='left:1781.12px;top:1368.11px;font-size:42.93px;font-weight:400;color:#111111;font-family:"Liberation Sans",sans-serif;'>6</div>
<div class="t" id="ry7" style='left:1781.65px;top:1289.34px;font-size:42.93px;font-weight:400;color:#111111;font-family:"Liberation Sans",sans-serif;'>7</div>
<div class="t" id="ry8" style='left:1781.10px;top:1210.81px;font-size:42.93px;font-weight:400;color:#111111;font-family:"Liberation Sans",sans-serif;'>8</div>
<div class="t" id="ry9" style='left:1781.69px;top:1132.03px;font-size:42.93px;font-weight:400;color:#111111;font-family:"Liberation Sans",sans-serif;'>9</div>
<div class="t" id="ry10" style='left:1760.63px;top:1053.29px;font-size:42.93px;font-weight:400;color:#111111;font-family:"Liberation Sans",sans-serif;transform:scaleX(0.9334);'>10</div>
<div class="t" id="rx0" style='left:1814.37px;top:1882.98px;font-size:44.37px;font-weight:400;color:#111111;font-family:"Liberation Sans",sans-serif;'>00</div>
<div class="t" id="rx1" style='left:2034.81px;top:1882.98px;font-size:44.37px;font-weight:400;color:#111111;font-family:"Liberation Sans",sans-serif;'>05</div>
<div class="t" id="rx2" style='left:2254.27px;top:1882.98px;font-size:44.37px;font-weight:400;color:#111111;font-family:"Liberation Sans",sans-serif;'>10</div>
<div class="t" id="rx3" style='left:2474.76px;top:1882.98px;font-size:44.37px;font-weight:400;color:#111111;font-family:"Liberation Sans",sans-serif;'>15</div>
<div class="t" id="rx4" style='left:2696.30px;top:1882.98px;font-size:44.37px;font-weight:400;color:#111111;font-family:"Liberation Sans",sans-serif;'>20</div>
<div class="t" id="rx5" style='left:2917.27px;top:1882.98px;font-size:44.37px;font-weight:400;color:#111111;font-family:"Liberation Sans",sans-serif;'>25</div>
<div class="t" id="rg0" style='left:2720.13px;top:1001.58px;font-size:36.05px;font-weight:400;color:#111111;font-family:"Liberation Sans","Noto Sans CJK KR",sans-serif;transform:scaleX(1.0011);'>실질성장률 추세</div>
<div class="t" id="rg1" style='left:2721.15px;top:1046.13px;font-size:36.02px;font-weight:400;color:#111111;font-family:"Liberation Sans","Noto Sans CJK KR",sans-serif;transform:scaleX(0.9987);'>중립금리 하단</div>
<div class="t" id="rg2" style='left:2721.14px;top:1089.74px;font-size:36.01px;font-weight:400;color:#111111;font-family:"Liberation Sans","Noto Sans CJK KR",sans-serif;transform:scaleX(0.9984);'>중립금리 상단</div>
<div class="t" id="rg3" style='left:2720.85px;top:1131.58px;font-size:37.81px;font-weight:400;color:#111111;font-family:"Liberation Sans","Noto Sans CJK KR",sans-serif;transform:scaleX(0.9507);'>명목성장률 추세</div>
<div class="t" id="a51" style='left:1848.00px;top:1399.99px;font-size:40.51px;font-weight:400;color:#111111;font-family:"Liberation Sans",sans-serif;transform:scaleX(0.8893);'>5.1</div>
<div class="t" id="a34" style='left:1853.88px;top:1617.41px;font-size:40.50px;font-weight:400;color:#111111;font-family:"Liberation Sans",sans-serif;transform:scaleX(0.9638);'>3.4</div>
<div class="t" id="a25" style='left:2732.00px;top:1603.77px;font-size:40.52px;font-weight:400;color:#111111;font-family:"Liberation Sans",sans-serif;transform:scaleX(0.9626);'>2.5</div>
<div class="t" id="a33" style='left:2885.40px;top:1559.25px;font-size:40.52px;font-weight:400;color:#111111;font-family:"Liberation Sans",sans-serif;transform:scaleX(0.9634);'>3.3</div>
<div class="t" id="a32" style='left:2960.50px;top:1559.25px;font-size:40.52px;font-weight:400;color:#111111;font-family:"Liberation Sans",sans-serif;transform:scaleX(0.9815);'>3.2</div>
<div class="t" id="a18" style='left:2882.06px;top:1744.12px;font-size:39.13px;font-weight:400;color:#111111;font-family:"Liberation Sans",sans-serif;transform:scaleX(0.9766);'>1.8</div>
<div class="t" id="a17" style='left:2961.55px;top:1748.44px;font-size:39.11px;font-weight:400;color:#111111;font-family:"Liberation Sans",sans-serif;transform:scaleX(0.9386);'>1.7</div>
<div class="t" id="a09" style='left:2724.31px;top:1826.66px;font-size:40.50px;font-weight:400;color:#111111;font-family:"Liberation Sans",sans-serif;transform:scaleX(0.9455);'>0.9</div>
</body></html>
